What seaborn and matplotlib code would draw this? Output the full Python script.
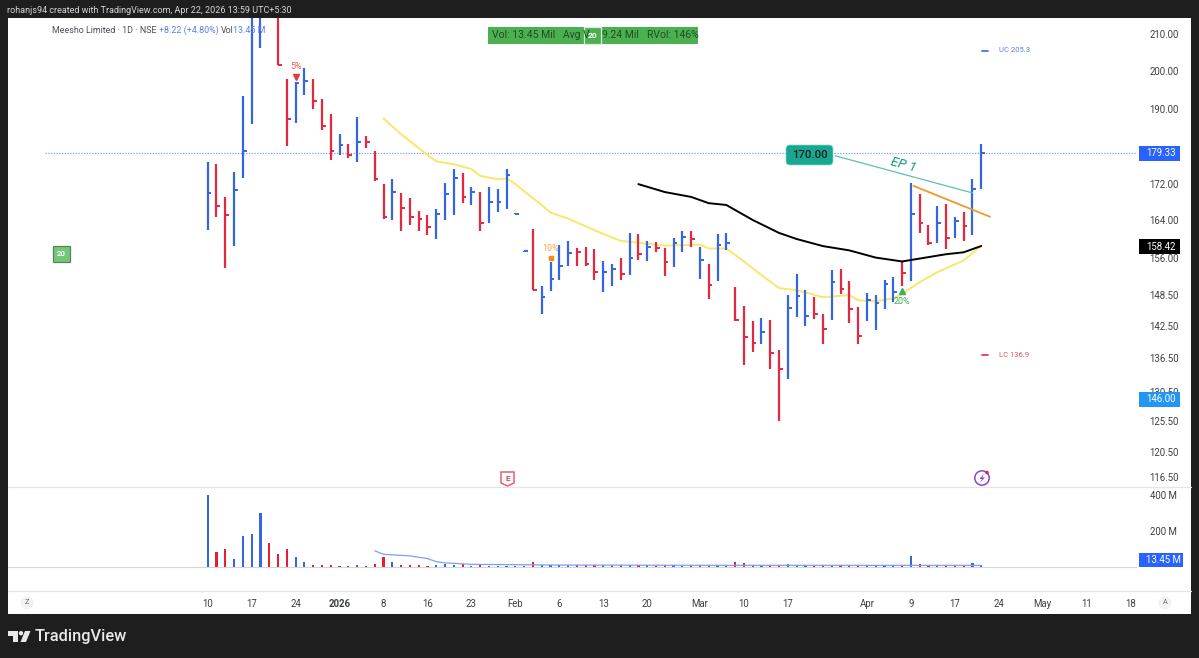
import matplotlib
matplotlib.use("Agg")
import matplotlib.pyplot as plt
import seaborn as sns
from matplotlib.patches import Rectangle, FancyBboxPatch, Polygon, Circle
from matplotlib.lines import Line2D
from matplotlib.transforms import IdentityTransform

# ---------- data ----------
highs = [177.1,176.6,169.1,174.8,193.4,228,232,240,226,197.8,
         197.0,200.7,197.8,192.6,188.8,183.8,181.5,188.1,183.3,179.8,
         172.0,173.1,170.0,168.9,166.0,165.0,166.5,172.2,175.5,174.5,
         171.3,170.2,171.3,170.8,175.5,165.5,157.4,162.0,150.2,155.0,
         158.7,159.5,158.1,158.3,157.7,155.2,154.6,156.0,161.2,161.0,
         159.5,159.3,158.1,160.2,161.6,161.6,158.3,154.6,161.0,161.2,
         150.0,146.3,143.3,143.9,143.5,137.9,148.4,152.6,149.4,148.0,
         144.7,153.4,153.6,151.2,146.1,148.8,148.4,151.4,152.0,155.2,
         172.2,169.8,163.0,167.1,167.6,164.7,165.8,173.1,181.5]
lows = [161.8,164.7,153.8,158.5,173.3,186.3,206.1,216,201.4,181.0,
        186.5,193.6,190.1,184.8,177.6,178.8,178.1,177.1,180.5,172.8,
        164.3,163.9,161.6,162.8,161.6,160.8,160.0,163.9,165.0,167.8,
        167.3,161.6,163.4,165.8,166.5,165.3,157.2,149.4,144.7,149.2,
        151.4,154.2,154.2,154.2,151.4,149.0,150.2,151.4,152.4,155.4,
        155.2,157.1,152.2,154.0,157.1,158.3,151.6,147.6,151.2,157.5,
        143.3,135.2,137.6,139.0,134.6,125.5,132.7,144.1,142.5,143.7,
        139.1,143.5,148.6,143.1,139.0,143.3,141.6,145.7,147.0,150.2,
        151.2,161.2,158.7,159.1,157.7,160.2,159.5,160.8,170.8]
closes = [170.0,167.1,165.0,170.6,179.8,219,221,225,201.6,187.5,
          196.8,197.3,192.1,185.7,179.8,181.2,178.8,182.0,182.0,173.1,
          164.7,170.2,166.7,164.7,164.3,162.4,165.4,169.8,173.5,169.1,
          170.2,163.4,168.0,168.0,174.0,165.4,157.3,149.4,148.0,151.6,
          154.2,156.9,157.1,154.6,153.0,153.0,153.6,152.6,156.0,156.7,
          158.3,158.1,155.0,159.1,160.4,159.8,155.4,150.4,158.7,159.1,
          143.5,140.3,139.3,141.4,137.4,134.6,145.9,148.2,144.3,144.7,
          141.8,151.0,149.6,145.7,140.5,147.4,146.8,150.6,149.0,152.8,
          165.4,163.4,159.1,163.4,160.2,163.7,162.6,170.8,179.33]
sides = list("brrbbbbrrrbbrrrbrbrrrbrrrrbbbrbrbbbbbrbbbbrrrbbrbrbrrbbrbrbbrrrbrrbbbrrbrrrbbbbrbrrbrbrbb")
volumes = [398,85,103,43,173,182,300,133,70,103,
           55,26,12,11,11,8,8,13,8,19,
           58,26,13,11,11,8,11,15,11,15,
           8,10,8,8,8,6,6,30,13,13,
           11,10,11,11,10,9,10,9,11,10,
           9,8,9,9,8,10,9,8,9,8,
           26,20,8,8,9,11,15,12,9,8,
           9,9,10,10,9,9,8,9,9,10,
           61,15,9,10,11,8,9,20,13.45]
ma20_x = [20,22,25,26,28,30,31,33,34,35,37,38,39,41,43,45,47,49,52,56,57,59,61,63,65,67,70,73,74,76,78,79,81,83,86,88]
ma20_y = [187.7,183.8,178.8,177.3,176.6,175.5,173.9,173.1,173.3,172.0,168.8,167.3,165.6,164.3,162.6,161.0,159.5,159.1,
          158.5,158.7,157.9,157.9,155.2,152.4,149.8,149.4,148.0,148.4,147.4,147.2,147.8,148.6,151.0,153.0,155.4,158.42]
ma50_x = [49,52,55,57,59,62,65,67,70,73,76,79,81,84,86,88]
ma50_y = [172.0,170.2,169.1,167.7,167.3,164.0,161.2,159.9,158.4,157.5,156.0,155.2,155.8,156.7,157.1,158.42]
volma_x = [19,20,23,25,26,27,30,40,60,88]
volma_y = [90,71,62,47,30,23,15,11,9.5,9.2]
price_ticks = [210,200,190,172,164,156,148.5,142.5,136.5,130.5,125.5,120.5,116.5]
vol_ticks = [400,200]
date_pos = [0,5,10,15,20,25,30,35,40,45,50,56,61,66,75,80,85,90,95,100,105]
date_lab = ["10","17","24","2026","8","16","23","Feb","6","13","20","Mar","10","17","Apr","9","17","24","May","11","18"]
last_close = 179.33
ep_x = [71.4,87]; ep_y = [178.6,170.0]
tl_x = [80.3,89]; tl_y = [171.6,164.7]

# ---------- style ----------
W, H = 1199, 658
sns.set_theme(style="white")
FONT = ["Roboto", "DejaVu Sans"]
plt.rcParams["font.family"] = FONT
BLUE, RED = "#3366e0", "#e32840"
DARK, TXT = "#1e1e1e", "#3c4043"
TICK = 6.9
idt = IdentityTransform()

fig = plt.figure(figsize=(W/100, H/100), dpi=100, facecolor=DARK)
def fx(x): return x/W
def fy(y): return 1-y/H
def rect(x0,y0,x1,y1,c,ec="none",lw=0,z=1):
    fig.add_artist(Rectangle((x0,H-y1),x1-x0,y1-y0,facecolor=c,edgecolor=ec,linewidth=lw,transform=idt,zorder=z))
def label(x,y,s,color=TXT,size=TICK,ha="left",z=5,**kw):
    fig.text(fx(x),fy(y),s,color=color,fontsize=size,ha=ha,va="center",zorder=z,**kw)

rect(8,18,1191,614,"white",z=-1)

ax = fig.add_axes([fx(8),fy(487),1129/W,469/H],facecolor="white")
axv = fig.add_axes([fx(8),fy(591),1129/W,103/H],facecolor="white")
xlim = ((8-207.7)/8.79,(1137-207.7)/8.79)

# ---------- price ----------
ax.set_yscale("log")
ax.set_ylim(115.0,214.5)
idx = list(range(len(closes)))
cols = [BLUE if s=="b" else RED for s in sides]
ax.hlines(last_close,-18.5,xlim[1],color="#7f9ff5",lw=0.9,linestyles=(0,(1,1.2)),zorder=1)
ax.vlines(idx,lows,highs,colors=cols,lw=1.6,zorder=3,capstyle="butt")
ax.hlines(closes,idx,[i+0.42 for i in idx],colors=cols,lw=1.4,zorder=3)
sns.lineplot(x=ma20_x,y=ma20_y,ax=ax,color="#fbe56b",lw=1.4,errorbar=None,zorder=2)
sns.lineplot(x=ma50_x,y=ma50_y,ax=ax,color="#000000",lw=1.4,errorbar=None,zorder=4)
sns.lineplot(x=ep_x,y=ep_y,ax=ax,color="#5fbfae",lw=0.9,errorbar=None,zorder=4)
sns.lineplot(x=tl_x,y=tl_y,ax=ax,color="#f0992b",lw=1.3,errorbar=None,zorder=4)
ax.plot([10],[198.4],marker="v",ms=4,color="#e03a48",zorder=5)
ax.text(10,201.2,"5%",color="#ef5350",fontsize=6.4,ha="center",va="center")
ax.plot([39],[156.0],marker="s",ms=3,color="#f28c18",zorder=5)
ax.text(39,157.9,"10%",color="#f5a33f",fontsize=6.4,ha="center",va="center")
ax.plot([79],[149.2],marker="^",ms=4,color="#3fae5a",zorder=5)
ax.text(79,147.2,"20%",color="#3fae5a",fontsize=6.4,ha="center",va="center")
ax.text(79.1,176.5,"EP 1",color="#0f9a82",fontsize=9.5,style="italic",rotation=-15,ha="center",va="center")

ax.set_xlim(*xlim)
ax.set_xticks([])
ax.yaxis.tick_right()
ax.minorticks_off()
ax.set_yticks(price_ticks)
ax.set_yticklabels([f"{v:.2f}" for v in price_ticks],color=TXT,fontsize=TICK)
ax.tick_params(axis="y",which="both",length=0,pad=9)
ax.set_xlabel(""); ax.set_ylabel("")
sns.despine(ax=ax,left=True,right=True,top=True,bottom=True)

# ---------- volume ----------
sns.barplot(x=idx,y=volumes,hue=sides,palette={"b":BLUE,"r":"#e5202e"},native_scale=True,saturation=1,
            width=0.25,dodge=False,legend=False,ax=axv,zorder=3,linewidth=0,edgecolor="none")
sns.lineplot(x=volma_x,y=volma_y,ax=axv,color="#7f9ff0",lw=0.9,errorbar=None,zorder=4)
axv.axhline(0,color="#d3d6dc",lw=0.8,zorder=1)
axv.set_xlim(*xlim)
axv.set_ylim(-133,439)
axv.yaxis.tick_right()
axv.set_yticks(vol_ticks)
axv.set_yticklabels([f"{v} M" for v in vol_ticks],color=TXT,fontsize=TICK)
axv.set_xticks(date_pos)
axv.set_xticklabels(date_lab,color=TXT,fontsize=TICK)
for t,s in zip(axv.get_xticklabels(),date_lab):
    if s=="2026": t.set_fontweight("bold")
axv.tick_params(axis="y",length=0,pad=9)
axv.tick_params(axis="x",length=0,pad=6)
axv.set_xlabel(""); axv.set_ylabel("")
sns.despine(ax=axv,left=True,right=True,top=True,bottom=True)

# ---------- chrome ----------
for y in (487,591):
    fig.add_artist(Line2D([8,1191],[H-y,H-y],color="#e3e5ea",lw=0.9,transform=idt,zorder=2))

label(7,10.5,"rohanjs94 created with TradingView.com, Apr 22, 2026 13:59 UTC+5:30",color="#d6d6d6",size=6.5)
label(52,30.5,"Meesho Limited · 1D · NSE",color="#4a4d55",size=6.4)
label(159,30.5,"+8.22 (+4.80%)",color="#5b7fe8",size=6.4)
label(221,30.5,"Vol",color="#4a4d55",size=6.4)
label(233,30.5,"13.45 M",color="#5b7fe8",size=6.4)

rect(488,27,698,44,"#4caf50")
label(492,35.5,"Vol: 13.45 Mil",color="#1f4d22",size=7.5)
label(563,35.5,"Avg V",color="#1f4d22",size=7.5)
label(602,35.5,"9.24 Mil",color="#1f4d22",size=7.5)
label(647,35.5,"RVol: 146%",color="#1f4d22",size=7.5)
rect(584,27,601,44,"#4caf50",ec="#d8efd9",lw=0.9,z=2)
label(592.5,35.5,"20",color="white",size=6,ha="center",fontweight="bold")

rect(53,246,70,262,"#74c77a",ec="#4d8a52",lw=0.9)
label(61.5,254,"20",color="white",size=5.6,ha="center",fontweight="bold")

fig.add_artist(FancyBboxPatch((786,H-165),47,20,boxstyle="round,pad=0,rounding_size=4",
                              facecolor="#1aa791",edgecolor="#7fd8c9",lw=0.5,transform=idt,zorder=2))
label(809.5,155,"170.00",color="#10201e",size=8.2,ha="center",fontweight="medium")

fig.add_artist(Line2D([982,988],[H-50.5,H-50.5],color=BLUE,lw=1.2,transform=idt,zorder=2))
label(999,50.5,"UC 205.3",color="#5b7fe8",size=5.5)
fig.add_artist(Line2D([982,988],[H-355,H-355],color=RED,lw=1.2,transform=idt,zorder=2))
label(999,355,"LC 136.9",color="#e0505f",size=5.5)

for (x1,y0,y1,c,s) in [(1180,146,161,"#2962ff","179.33"),(1180,239,254,"#000000","158.42"),
                       (1180,392,407,"#2196f3","146.00"),(1183,553,567,"#2962ff","13.45 M")]:
    rect(1139,y0,x1,y1,c,z=3)
    label(1146,(y0+y1)/2,s,color="white",size=TICK)

for x,s in ((27,"Z"),(1165,"A")):
    fig.add_artist(Circle((x,H-603),6.5,facecolor="#f1f2f4",edgecolor="none",transform=idt,zorder=2))
    label(x,603,s,color="#6a6d75",size=5.4,ha="center")

# earnings and news icons
fig.add_artist(Polygon([(501,H-472),(514,H-472),(514,H-483),(507.5,H-486),(501,H-483)],closed=True,
                       facecolor="white",edgecolor="#e4606d",lw=1.1,transform=idt,zorder=2))
label(507.5,478.5,"E",color="#d83c4a",size=5.8,ha="center",fontweight="bold")
fig.add_artist(Circle((982,H-478),7.2,facecolor="white",edgecolor="#8e44c8",lw=1.1,transform=idt,zorder=2))
fig.add_artist(Polygon([(984,H-473.5),(979.5,H-479),(982,H-479),(980,H-482.5),(985,H-477.5),(982.2,H-477.5)],closed=True,
                       facecolor="#8e44c8",edgecolor="none",transform=idt,zorder=3))
fig.add_artist(Circle((987,H-472.5),1.8,facecolor="#e02a3a",edgecolor="none",transform=idt,zorder=3))

# logo
LC = "#e9e9e9"
rect(8,631,18,635.5,LC,z=2)
rect(13,631,18,642,LC,z=2)
fig.add_artist(Circle((21,H-633.2),2.2,facecolor=LC,edgecolor="none",transform=idt,zorder=2))
fig.add_artist(Polygon([(25,H-631),(30.5,H-631),(26,H-642),(20.5,H-642)],closed=True,facecolor=LC,edgecolor="none",transform=idt,zorder=2))
label(35,636.5,"TradingView",color=LC,size=11.8,fontweight="medium")

fig.savefig("out.png",dpi=100,facecolor=DARK)
